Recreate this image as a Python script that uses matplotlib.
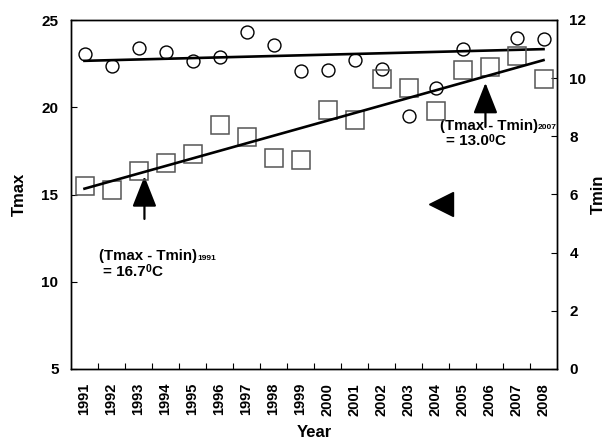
import matplotlib
matplotlib.use("Agg")
import matplotlib.pyplot as plt
import numpy as np

years = [1991, 1992, 1993, 1994, 1995, 1996, 1997, 1998, 1999,
         2000, 2001, 2002, 2003, 2004, 2005, 2006, 2007, 2008]
tmax = [23.05, 22.37, 23.37, 23.18, 22.64, 22.89, 24.33, 23.55, 22.09,
        22.13, 22.70, 22.22, 19.48, 21.13, 23.32, np.nan, 23.98, 23.91]
tmin = [6.29, 6.14, 6.80, 7.10, 7.39, 8.38, 7.96, 7.25, 7.17,
        8.92, 8.55, 9.97, 9.66, 8.87, 10.28, 10.37, 10.76, 9.96]
tmax_trend = [22.66, 23.33]   # trend values at 1991 and 2008
tmin_trend = [6.20, 10.62]
left_ticks = [5, 10, 15, 20, 25]
right_ticks = [0, 2, 4, 6, 8, 10, 12]

plt.rcParams['font.family'] = ['Liberation Sans', 'DejaVu Sans']
plt.rcParams['font.weight'] = 'bold'
ann = ['Liberation Sans', 'DejaVu Sans']

fig = plt.figure(figsize=(6.16, 4.42), dpi=100)
ax = fig.add_axes([71/616, (442-369)/442, (557-71)/616, (369-20)/442])
ax2 = ax.twinx()

x = np.arange(len(years))
ax.plot(x, tmax, linestyle='none', marker='o', ms=9.3, mfc='none',
        mec='black', mew=1.0, zorder=3)
ax.plot([x[0], x[-1]], tmax_trend, color='black', lw=1.9, zorder=4)
ax2.plot(x, tmin, linestyle='none', marker='s', ms=13, mfc='none',
         mec='#555555', mew=1.1, zorder=3)
ax2.plot([x[0], x[-1]], tmin_trend, color='black', lw=1.9, zorder=4)

ax.set_xlim(-0.5, len(years) - 0.5)
ax.set_ylim(5, 25)
ax2.set_ylim(0, 12)
ax.set_yticks(left_ticks)
ax2.set_yticks(right_ticks)
ax.set_xticks(x)
ax.set_xticklabels([str(y) for y in years], rotation=90, fontsize=10.5, fontweight='bold')
ax.set_xticks(x[:-1] + 0.5, minor=True)
ax.tick_params(axis='x', which='major', length=0, pad=10)
ax.tick_params(axis='x', which='minor', direction='in', length=4, width=0.8, top=False)
ax.tick_params(axis='y', direction='in', length=4, width=0.8, labelsize=11, pad=9)
ax2.tick_params(axis='y', direction='in', length=4, width=0.8, labelsize=11, pad=9)
for lab in ax.get_yticklabels() + ax2.get_yticklabels():
    lab.set_fontweight('bold')
for a in (ax, ax2):
    for s in a.spines.values():
        s.set_linewidth(1.0)

ax.set_ylabel('Tmax', fontsize=12, fontweight='bold')
ax2.set_ylabel('Tmin', fontsize=12, fontweight='bold')
ax.set_xlabel('Year', fontsize=12, fontweight='bold')
ax.yaxis.set_label_coords(-0.09, 0.5)
ax2.yaxis.set_label_coords(1.07, 0.5)
ax.xaxis.set_label_coords(0.5, -0.16)

# arrows
arrow_kw = dict(arrowstyle='-|>,head_length=1.9,head_width=0.75', mutation_scale=10,
                lw=1.6, color='black', shrinkA=0, shrinkB=0)
ax.annotate('', xy=(2.22, 16.05), xytext=(2.22, 13.6), arrowprops=arrow_kw, zorder=5)
ax.annotate('', xy=(14.85, 21.40), xytext=(14.85, 18.87), arrowprops=arrow_kw, zorder=5)

# left-pointing triangle
ax.plot([13.22], [14.43], marker='<', ms=17.5, color='black', linestyle='none', zorder=5)

def label(xpos, ypos, xpos2, ypos2, sub, value):
    t1 = ax.text(xpos, ypos, '(Tmax - Tmin)', fontsize=10.8, fontweight='bold',
                 family=ann, va='baseline', ha='left', zorder=6)
    ax.annotate(sub, xy=(1, 0.1), xycoords=t1, fontsize=6, fontweight='bold',
                family=ann, va='bottom', ha='left', zorder=6)
    t2 = ax.text(xpos2, ypos2, '= ' + value, fontsize=11, fontweight='bold',
                 family=ann, va='baseline', ha='left', zorder=6)
    t3 = ax.annotate('0', xy=(1, 1.05), xycoords=t2, fontsize=7.5, fontweight='bold',
                     family=ann, va='top', ha='left', zorder=6)
    ax.annotate('C', xy=(1, 0), xycoords=(t3, t2), fontsize=11, fontweight='bold',
                family=ann, va='bottom', ha='left', zorder=6)

label(0.55, 11.25, 0.70, 10.34, '1991', '16.7')
label(13.17, 18.72, 13.39, 17.82, '2007', '13.0')

fig.savefig('out.png', dpi=100)
